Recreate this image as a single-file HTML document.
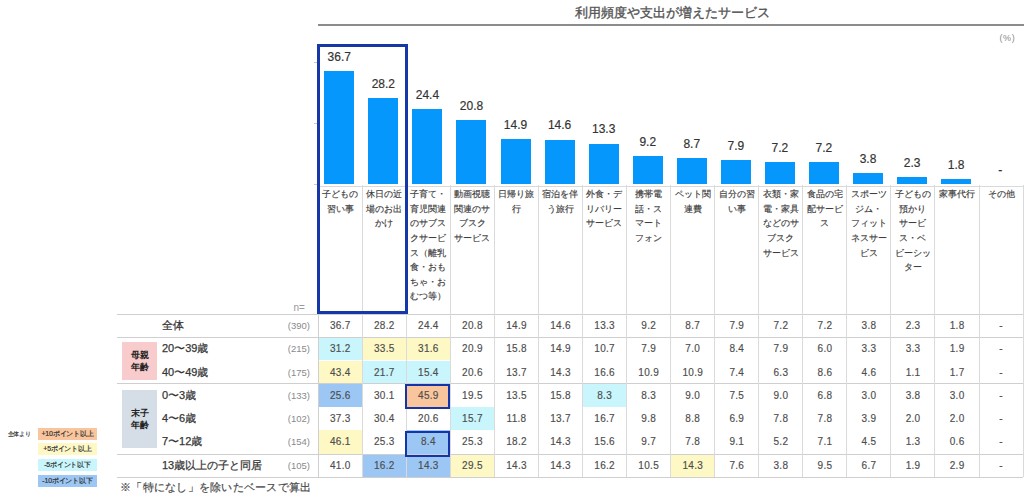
<!DOCTYPE html>
<html><head><meta charset="utf-8">
<style>
html,body{margin:0;padding:0;}
body{width:1024px;height:497px;position:relative;overflow:hidden;background:#fff;font-family:"Liberation Sans",sans-serif;color:#404040;}
.a{position:absolute;}
.t{position:absolute;white-space:nowrap;}
.bar{position:absolute;background:#0597fb;}
.bl{position:absolute;width:44px;text-align:center;font-size:12px;line-height:12px;color:#333;-webkit-text-stroke:0.18px #333;}
.cat{position:absolute;width:44px;text-align:center;font-size:9.3px;line-height:14.6px;color:#3a3a3a;-webkit-text-stroke:0.15px #3a3a3a;}
.vl{position:absolute;width:1px;background:#dadada;}
.hl{position:absolute;height:1px;background:#cfcfcf;}
.cell{position:absolute;text-align:center;font-size:10px;color:#4d4d4d;-webkit-text-stroke:0.15px #4d4d4d;letter-spacing:0.3px;text-indent:0.3px;}
.rl{position:absolute;font-size:11px;color:#363636;white-space:nowrap;-webkit-text-stroke:0.25px #363636;}
.rn{position:absolute;font-size:9.5px;color:#8a8a8a;text-align:right;width:60px;}
.lg{position:absolute;left:38px;width:59px;height:12px;font-size:7px;line-height:12px;text-align:center;color:#333;white-space:nowrap;letter-spacing:-0.2px;-webkit-text-stroke:0.2px #333;}
</style></head><body>

<div class="t" style="left:319px;width:706px;top:4.5px;text-align:center;font-size:12.7px;line-height:16px;color:#555;-webkit-text-stroke:0.35px #555;">利用頻度や支出が増えたサービス</div>
<div class="a" style="left:318px;top:24px;width:706px;height:2px;background:#8c8c8c;"></div>
<div class="t" style="left:999.5px;top:33px;font-size:9px;line-height:11px;color:#8a8a8a;letter-spacing:0.6px;">(%)</div>
<div class="a" style="left:314px;top:61.8px;width:4px;height:1px;background:#c8c8c8;"></div>
<div class="a" style="left:314px;top:122.9px;width:4px;height:1px;background:#c8c8c8;"></div>
<div class="a" style="left:314px;top:184px;width:4px;height:1px;background:#c8c8c8;"></div>
<div class="a" style="left:318px;top:186px;width:706px;height:1px;background:#d9d9d9;"></div>
<div class="bar" style="left:324.3px;top:71.46px;width:30px;height:113.04px;"></div>
<div class="bl" style="left:317.3px;top:51.36px;">36.7</div>
<div class="bar" style="left:368.36px;top:97.64px;width:30px;height:86.86px;"></div>
<div class="bl" style="left:361.36px;top:77.54px;">28.2</div>
<div class="bar" style="left:412.42px;top:109.35px;width:30px;height:75.15px;"></div>
<div class="bl" style="left:405.42px;top:89.25px;">24.4</div>
<div class="bar" style="left:456.48px;top:120.44px;width:30px;height:64.06px;"></div>
<div class="bl" style="left:449.48px;top:100.34px;">20.8</div>
<div class="bar" style="left:500.54px;top:138.61px;width:30px;height:45.89px;"></div>
<div class="bl" style="left:493.54px;top:118.51px;">14.9</div>
<div class="bar" style="left:544.6px;top:139.53px;width:30px;height:44.97px;"></div>
<div class="bl" style="left:537.6px;top:119.43px;">14.6</div>
<div class="bar" style="left:588.66px;top:143.54px;width:30px;height:40.96px;"></div>
<div class="bl" style="left:581.66px;top:123.44px;">13.3</div>
<div class="bar" style="left:632.72px;top:156.16px;width:30px;height:28.34px;"></div>
<div class="bl" style="left:625.72px;top:136.06px;">9.2</div>
<div class="bar" style="left:676.78px;top:157.7px;width:30px;height:26.8px;"></div>
<div class="bl" style="left:669.78px;top:137.6px;">8.7</div>
<div class="bar" style="left:720.84px;top:160.17px;width:30px;height:24.33px;"></div>
<div class="bl" style="left:713.84px;top:140.07px;">7.9</div>
<div class="bar" style="left:764.9px;top:162.32px;width:30px;height:22.18px;"></div>
<div class="bl" style="left:757.9px;top:142.22px;">7.2</div>
<div class="bar" style="left:808.96px;top:162.32px;width:30px;height:22.18px;"></div>
<div class="bl" style="left:801.96px;top:142.22px;">7.2</div>
<div class="bar" style="left:853.02px;top:172.8px;width:30px;height:11.7px;"></div>
<div class="bl" style="left:846.02px;top:152.7px;">3.8</div>
<div class="bar" style="left:897.08px;top:177.42px;width:30px;height:7.08px;"></div>
<div class="bl" style="left:890.08px;top:157.32px;">2.3</div>
<div class="bar" style="left:941.14px;top:178.96px;width:30px;height:5.54px;"></div>
<div class="bl" style="left:934.14px;top:158.86px;">1.8</div>
<div class="bl" style="left:978.2px;top:164.4px;">-</div>
<div class="vl" style="left:317.6px;top:314px;height:163px;background:#cfcfcf;"></div>
<div class="vl" style="left:361.66px;top:185px;height:292px;"></div>
<div class="vl" style="left:405.72px;top:185px;height:292px;"></div>
<div class="vl" style="left:449.78px;top:185px;height:292px;"></div>
<div class="vl" style="left:493.84px;top:185px;height:292px;"></div>
<div class="vl" style="left:537.9px;top:185px;height:292px;"></div>
<div class="vl" style="left:581.96px;top:185px;height:292px;"></div>
<div class="vl" style="left:626.02px;top:185px;height:292px;"></div>
<div class="vl" style="left:670.08px;top:185px;height:292px;"></div>
<div class="vl" style="left:714.14px;top:185px;height:292px;"></div>
<div class="vl" style="left:758.2px;top:185px;height:292px;"></div>
<div class="vl" style="left:802.26px;top:185px;height:292px;"></div>
<div class="vl" style="left:846.32px;top:185px;height:292px;"></div>
<div class="vl" style="left:890.38px;top:185px;height:292px;"></div>
<div class="vl" style="left:934.44px;top:185px;height:292px;"></div>
<div class="vl" style="left:978.5px;top:185px;height:292px;"></div>
<div class="vl" style="left:1022.56px;top:185px;height:292px;"></div>
<div class="cat" style="left:318.1px;top:187.2px;">子どもの<br>習い事</div>
<div class="cat" style="left:362.16px;top:187.2px;">休日の近<br>場のお出<br>かけ</div>
<div class="cat" style="left:406.22px;top:187.2px;">子育て・<br>育児関連<br>のサブス<br>クサービ<br>ス（離乳<br>食・おも<br>ちゃ・お<br>むつ等）</div>
<div class="cat" style="left:450.28px;top:187.2px;">動画視聴<br>関連のサ<br>ブスク<br>サービス</div>
<div class="cat" style="left:494.34px;top:187.2px;">日帰り旅<br>行</div>
<div class="cat" style="left:538.4px;top:187.2px;">宿泊を伴<br>う旅行</div>
<div class="cat" style="left:582.46px;top:187.2px;">外食・デ<br>リバリー<br>サービス</div>
<div class="cat" style="left:626.52px;top:187.2px;">携帯電<br>話・ス<br>マート<br>フォン</div>
<div class="cat" style="left:670.58px;top:187.2px;">ペット関<br>連費</div>
<div class="cat" style="left:714.64px;top:187.2px;">自分の習<br>い事</div>
<div class="cat" style="left:758.7px;top:187.2px;">衣類・家<br>電・家具<br>などのサ<br>ブスク<br>サービス</div>
<div class="cat" style="left:802.76px;top:187.2px;">食品の宅<br>配サービ<br>ス</div>
<div class="cat" style="left:846.82px;top:187.2px;">スポーツ<br>ジム・<br>フィット<br>ネスサー<br>ビス</div>
<div class="cat" style="left:890.88px;top:187.2px;">子どもの<br>預かり<br>サービ<br>ス・ベ<br>ビーシッ<br>ター</div>
<div class="cat" style="left:934.94px;top:187.2px;">家事代行</div>
<div class="cat" style="left:979px;top:187.2px;">その他</div>
<div class="t" style="left:293.5px;top:302.5px;font-size:10px;line-height:10px;color:#9a9a9a;">n=</div>
<div class="cell" style="left:318.6px;top:314px;width:43.06px;height:23.3px;line-height:23.3px;">36.7</div>
<div class="cell" style="left:362.66px;top:314px;width:43.06px;height:23.3px;line-height:23.3px;">28.2</div>
<div class="cell" style="left:406.72px;top:314px;width:43.06px;height:23.3px;line-height:23.3px;">24.4</div>
<div class="cell" style="left:450.78px;top:314px;width:43.06px;height:23.3px;line-height:23.3px;">20.8</div>
<div class="cell" style="left:494.84px;top:314px;width:43.06px;height:23.3px;line-height:23.3px;">14.9</div>
<div class="cell" style="left:538.9px;top:314px;width:43.06px;height:23.3px;line-height:23.3px;">14.6</div>
<div class="cell" style="left:582.96px;top:314px;width:43.06px;height:23.3px;line-height:23.3px;">13.3</div>
<div class="cell" style="left:627.02px;top:314px;width:43.06px;height:23.3px;line-height:23.3px;">9.2</div>
<div class="cell" style="left:671.08px;top:314px;width:43.06px;height:23.3px;line-height:23.3px;">8.7</div>
<div class="cell" style="left:715.14px;top:314px;width:43.06px;height:23.3px;line-height:23.3px;">7.9</div>
<div class="cell" style="left:759.2px;top:314px;width:43.06px;height:23.3px;line-height:23.3px;">7.2</div>
<div class="cell" style="left:803.26px;top:314px;width:43.06px;height:23.3px;line-height:23.3px;">7.2</div>
<div class="cell" style="left:847.32px;top:314px;width:43.06px;height:23.3px;line-height:23.3px;">3.8</div>
<div class="cell" style="left:891.38px;top:314px;width:43.06px;height:23.3px;line-height:23.3px;">2.3</div>
<div class="cell" style="left:935.44px;top:314px;width:43.06px;height:23.3px;line-height:23.3px;">1.8</div>
<div class="cell" style="left:979.5px;top:314px;width:43.06px;height:23.3px;line-height:23.3px;">-</div>
<div class="rl" style="left:162px;top:314px;line-height:23.3px;">全体</div>
<div class="rn" style="left:250px;top:314px;line-height:23.3px;">(390)</div>
<div class="cell" style="left:318.6px;top:337.3px;width:43.06px;height:23.2px;line-height:23.2px;background:#c8f6fc;">31.2</div>
<div class="cell" style="left:362.66px;top:337.3px;width:43.06px;height:23.2px;line-height:23.2px;background:#fdf8c4;">33.5</div>
<div class="cell" style="left:406.72px;top:337.3px;width:43.06px;height:23.2px;line-height:23.2px;background:#fdf8c4;">31.6</div>
<div class="cell" style="left:450.78px;top:337.3px;width:43.06px;height:23.2px;line-height:23.2px;">20.9</div>
<div class="cell" style="left:494.84px;top:337.3px;width:43.06px;height:23.2px;line-height:23.2px;">15.8</div>
<div class="cell" style="left:538.9px;top:337.3px;width:43.06px;height:23.2px;line-height:23.2px;">14.9</div>
<div class="cell" style="left:582.96px;top:337.3px;width:43.06px;height:23.2px;line-height:23.2px;">10.7</div>
<div class="cell" style="left:627.02px;top:337.3px;width:43.06px;height:23.2px;line-height:23.2px;">7.9</div>
<div class="cell" style="left:671.08px;top:337.3px;width:43.06px;height:23.2px;line-height:23.2px;">7.0</div>
<div class="cell" style="left:715.14px;top:337.3px;width:43.06px;height:23.2px;line-height:23.2px;">8.4</div>
<div class="cell" style="left:759.2px;top:337.3px;width:43.06px;height:23.2px;line-height:23.2px;">7.9</div>
<div class="cell" style="left:803.26px;top:337.3px;width:43.06px;height:23.2px;line-height:23.2px;">6.0</div>
<div class="cell" style="left:847.32px;top:337.3px;width:43.06px;height:23.2px;line-height:23.2px;">3.3</div>
<div class="cell" style="left:891.38px;top:337.3px;width:43.06px;height:23.2px;line-height:23.2px;">3.3</div>
<div class="cell" style="left:935.44px;top:337.3px;width:43.06px;height:23.2px;line-height:23.2px;">1.9</div>
<div class="cell" style="left:979.5px;top:337.3px;width:43.06px;height:23.2px;line-height:23.2px;">-</div>
<div class="rl" style="left:162px;top:337.3px;line-height:23.2px;">20〜39歳</div>
<div class="rn" style="left:250px;top:337.3px;line-height:23.2px;">(215)</div>
<div class="cell" style="left:318.6px;top:360.5px;width:43.06px;height:23.1px;line-height:23.1px;background:#fdf8c4;">43.4</div>
<div class="cell" style="left:362.66px;top:360.5px;width:43.06px;height:23.1px;line-height:23.1px;background:#c8f6fc;">21.7</div>
<div class="cell" style="left:406.72px;top:360.5px;width:43.06px;height:23.1px;line-height:23.1px;background:#c8f6fc;">15.4</div>
<div class="cell" style="left:450.78px;top:360.5px;width:43.06px;height:23.1px;line-height:23.1px;">20.6</div>
<div class="cell" style="left:494.84px;top:360.5px;width:43.06px;height:23.1px;line-height:23.1px;">13.7</div>
<div class="cell" style="left:538.9px;top:360.5px;width:43.06px;height:23.1px;line-height:23.1px;">14.3</div>
<div class="cell" style="left:582.96px;top:360.5px;width:43.06px;height:23.1px;line-height:23.1px;">16.6</div>
<div class="cell" style="left:627.02px;top:360.5px;width:43.06px;height:23.1px;line-height:23.1px;">10.9</div>
<div class="cell" style="left:671.08px;top:360.5px;width:43.06px;height:23.1px;line-height:23.1px;">10.9</div>
<div class="cell" style="left:715.14px;top:360.5px;width:43.06px;height:23.1px;line-height:23.1px;">7.4</div>
<div class="cell" style="left:759.2px;top:360.5px;width:43.06px;height:23.1px;line-height:23.1px;">6.3</div>
<div class="cell" style="left:803.26px;top:360.5px;width:43.06px;height:23.1px;line-height:23.1px;">8.6</div>
<div class="cell" style="left:847.32px;top:360.5px;width:43.06px;height:23.1px;line-height:23.1px;">4.6</div>
<div class="cell" style="left:891.38px;top:360.5px;width:43.06px;height:23.1px;line-height:23.1px;">1.1</div>
<div class="cell" style="left:935.44px;top:360.5px;width:43.06px;height:23.1px;line-height:23.1px;">1.7</div>
<div class="cell" style="left:979.5px;top:360.5px;width:43.06px;height:23.1px;line-height:23.1px;">-</div>
<div class="rl" style="left:162px;top:360.5px;line-height:23.1px;">40〜49歳</div>
<div class="rn" style="left:250px;top:360.5px;line-height:23.1px;">(175)</div>
<div class="cell" style="left:318.6px;top:383.6px;width:43.06px;height:23.3px;line-height:23.3px;background:#9cc7f4;">25.6</div>
<div class="cell" style="left:362.66px;top:383.6px;width:43.06px;height:23.3px;line-height:23.3px;">30.1</div>
<div class="cell" style="left:406.72px;top:383.6px;width:43.06px;height:23.3px;line-height:23.3px;background:#f9c59d;">45.9</div>
<div class="cell" style="left:450.78px;top:383.6px;width:43.06px;height:23.3px;line-height:23.3px;">19.5</div>
<div class="cell" style="left:494.84px;top:383.6px;width:43.06px;height:23.3px;line-height:23.3px;">13.5</div>
<div class="cell" style="left:538.9px;top:383.6px;width:43.06px;height:23.3px;line-height:23.3px;">15.8</div>
<div class="cell" style="left:582.96px;top:383.6px;width:43.06px;height:23.3px;line-height:23.3px;background:#c8f6fc;">8.3</div>
<div class="cell" style="left:627.02px;top:383.6px;width:43.06px;height:23.3px;line-height:23.3px;">8.3</div>
<div class="cell" style="left:671.08px;top:383.6px;width:43.06px;height:23.3px;line-height:23.3px;">9.0</div>
<div class="cell" style="left:715.14px;top:383.6px;width:43.06px;height:23.3px;line-height:23.3px;">7.5</div>
<div class="cell" style="left:759.2px;top:383.6px;width:43.06px;height:23.3px;line-height:23.3px;">9.0</div>
<div class="cell" style="left:803.26px;top:383.6px;width:43.06px;height:23.3px;line-height:23.3px;">6.8</div>
<div class="cell" style="left:847.32px;top:383.6px;width:43.06px;height:23.3px;line-height:23.3px;">3.0</div>
<div class="cell" style="left:891.38px;top:383.6px;width:43.06px;height:23.3px;line-height:23.3px;">3.8</div>
<div class="cell" style="left:935.44px;top:383.6px;width:43.06px;height:23.3px;line-height:23.3px;">3.0</div>
<div class="cell" style="left:979.5px;top:383.6px;width:43.06px;height:23.3px;line-height:23.3px;">-</div>
<div class="rl" style="left:162px;top:383.6px;line-height:23.3px;">0〜3歳</div>
<div class="rn" style="left:250px;top:383.6px;line-height:23.3px;">(133)</div>
<div class="cell" style="left:318.6px;top:406.9px;width:43.06px;height:23.3px;line-height:23.3px;">37.3</div>
<div class="cell" style="left:362.66px;top:406.9px;width:43.06px;height:23.3px;line-height:23.3px;">30.4</div>
<div class="cell" style="left:406.72px;top:406.9px;width:43.06px;height:23.3px;line-height:23.3px;">20.6</div>
<div class="cell" style="left:450.78px;top:406.9px;width:43.06px;height:23.3px;line-height:23.3px;background:#c8f6fc;">15.7</div>
<div class="cell" style="left:494.84px;top:406.9px;width:43.06px;height:23.3px;line-height:23.3px;">11.8</div>
<div class="cell" style="left:538.9px;top:406.9px;width:43.06px;height:23.3px;line-height:23.3px;">13.7</div>
<div class="cell" style="left:582.96px;top:406.9px;width:43.06px;height:23.3px;line-height:23.3px;">16.7</div>
<div class="cell" style="left:627.02px;top:406.9px;width:43.06px;height:23.3px;line-height:23.3px;">9.8</div>
<div class="cell" style="left:671.08px;top:406.9px;width:43.06px;height:23.3px;line-height:23.3px;">8.8</div>
<div class="cell" style="left:715.14px;top:406.9px;width:43.06px;height:23.3px;line-height:23.3px;">6.9</div>
<div class="cell" style="left:759.2px;top:406.9px;width:43.06px;height:23.3px;line-height:23.3px;">7.8</div>
<div class="cell" style="left:803.26px;top:406.9px;width:43.06px;height:23.3px;line-height:23.3px;">7.8</div>
<div class="cell" style="left:847.32px;top:406.9px;width:43.06px;height:23.3px;line-height:23.3px;">3.9</div>
<div class="cell" style="left:891.38px;top:406.9px;width:43.06px;height:23.3px;line-height:23.3px;">2.0</div>
<div class="cell" style="left:935.44px;top:406.9px;width:43.06px;height:23.3px;line-height:23.3px;">2.0</div>
<div class="cell" style="left:979.5px;top:406.9px;width:43.06px;height:23.3px;line-height:23.3px;">-</div>
<div class="rl" style="left:162px;top:406.9px;line-height:23.3px;">4〜6歳</div>
<div class="rn" style="left:250px;top:406.9px;line-height:23.3px;">(102)</div>
<div class="cell" style="left:318.6px;top:430.2px;width:43.06px;height:23.8px;line-height:23.8px;background:#fdf8c4;">46.1</div>
<div class="cell" style="left:362.66px;top:430.2px;width:43.06px;height:23.8px;line-height:23.8px;">25.3</div>
<div class="cell" style="left:406.72px;top:430.2px;width:43.06px;height:23.8px;line-height:23.8px;background:#9cc7f4;">8.4</div>
<div class="cell" style="left:450.78px;top:430.2px;width:43.06px;height:23.8px;line-height:23.8px;">25.3</div>
<div class="cell" style="left:494.84px;top:430.2px;width:43.06px;height:23.8px;line-height:23.8px;">18.2</div>
<div class="cell" style="left:538.9px;top:430.2px;width:43.06px;height:23.8px;line-height:23.8px;">14.3</div>
<div class="cell" style="left:582.96px;top:430.2px;width:43.06px;height:23.8px;line-height:23.8px;">15.6</div>
<div class="cell" style="left:627.02px;top:430.2px;width:43.06px;height:23.8px;line-height:23.8px;">9.7</div>
<div class="cell" style="left:671.08px;top:430.2px;width:43.06px;height:23.8px;line-height:23.8px;">7.8</div>
<div class="cell" style="left:715.14px;top:430.2px;width:43.06px;height:23.8px;line-height:23.8px;">9.1</div>
<div class="cell" style="left:759.2px;top:430.2px;width:43.06px;height:23.8px;line-height:23.8px;">5.2</div>
<div class="cell" style="left:803.26px;top:430.2px;width:43.06px;height:23.8px;line-height:23.8px;">7.1</div>
<div class="cell" style="left:847.32px;top:430.2px;width:43.06px;height:23.8px;line-height:23.8px;">4.5</div>
<div class="cell" style="left:891.38px;top:430.2px;width:43.06px;height:23.8px;line-height:23.8px;">1.3</div>
<div class="cell" style="left:935.44px;top:430.2px;width:43.06px;height:23.8px;line-height:23.8px;">0.6</div>
<div class="cell" style="left:979.5px;top:430.2px;width:43.06px;height:23.8px;line-height:23.8px;">-</div>
<div class="rl" style="left:162px;top:430.2px;line-height:23.8px;">7〜12歳</div>
<div class="rn" style="left:250px;top:430.2px;line-height:23.8px;">(154)</div>
<div class="cell" style="left:318.6px;top:454px;width:43.06px;height:23px;line-height:23px;">41.0</div>
<div class="cell" style="left:362.66px;top:454px;width:43.06px;height:23px;line-height:23px;background:#9cc7f4;">16.2</div>
<div class="cell" style="left:406.72px;top:454px;width:43.06px;height:23px;line-height:23px;background:#9cc7f4;">14.3</div>
<div class="cell" style="left:450.78px;top:454px;width:43.06px;height:23px;line-height:23px;background:#fdf8c4;">29.5</div>
<div class="cell" style="left:494.84px;top:454px;width:43.06px;height:23px;line-height:23px;">14.3</div>
<div class="cell" style="left:538.9px;top:454px;width:43.06px;height:23px;line-height:23px;">14.3</div>
<div class="cell" style="left:582.96px;top:454px;width:43.06px;height:23px;line-height:23px;">16.2</div>
<div class="cell" style="left:627.02px;top:454px;width:43.06px;height:23px;line-height:23px;">10.5</div>
<div class="cell" style="left:671.08px;top:454px;width:43.06px;height:23px;line-height:23px;background:#fdf8c4;">14.3</div>
<div class="cell" style="left:715.14px;top:454px;width:43.06px;height:23px;line-height:23px;">7.6</div>
<div class="cell" style="left:759.2px;top:454px;width:43.06px;height:23px;line-height:23px;">3.8</div>
<div class="cell" style="left:803.26px;top:454px;width:43.06px;height:23px;line-height:23px;">9.5</div>
<div class="cell" style="left:847.32px;top:454px;width:43.06px;height:23px;line-height:23px;">6.7</div>
<div class="cell" style="left:891.38px;top:454px;width:43.06px;height:23px;line-height:23px;">1.9</div>
<div class="cell" style="left:935.44px;top:454px;width:43.06px;height:23px;line-height:23px;">2.9</div>
<div class="cell" style="left:979.5px;top:454px;width:43.06px;height:23px;line-height:23px;">-</div>
<div class="rl" style="left:162px;top:454px;line-height:23px;">13歳以上の子と同居</div>
<div class="rn" style="left:250px;top:454px;line-height:23px;">(105)</div>
<div class="hl" style="left:117px;top:314px;width:906px;"></div>
<div class="hl" style="left:117px;top:337px;width:906px;"></div>
<div class="hl" style="left:117px;top:383px;width:906px;"></div>
<div class="hl" style="left:117px;top:454px;width:906px;"></div>
<div class="hl" style="left:117px;top:477px;width:906px;"></div>
<div class="vl" style="left:361.66px;top:314px;height:163px;"></div>
<div class="vl" style="left:405.72px;top:314px;height:163px;"></div>
<div class="vl" style="left:449.78px;top:314px;height:163px;"></div>
<div class="vl" style="left:493.84px;top:314px;height:163px;"></div>
<div class="vl" style="left:537.9px;top:314px;height:163px;"></div>
<div class="vl" style="left:581.96px;top:314px;height:163px;"></div>
<div class="vl" style="left:626.02px;top:314px;height:163px;"></div>
<div class="vl" style="left:670.08px;top:314px;height:163px;"></div>
<div class="vl" style="left:714.14px;top:314px;height:163px;"></div>
<div class="vl" style="left:758.2px;top:314px;height:163px;"></div>
<div class="vl" style="left:802.26px;top:314px;height:163px;"></div>
<div class="vl" style="left:846.32px;top:314px;height:163px;"></div>
<div class="vl" style="left:890.38px;top:314px;height:163px;"></div>
<div class="vl" style="left:934.44px;top:314px;height:163px;"></div>
<div class="vl" style="left:978.5px;top:314px;height:163px;"></div>
<div class="vl" style="left:1022.56px;top:314px;height:163px;"></div>
<div class="a" style="left:122px;top:342px;width:35px;height:38px;background:#f8cccc;font-size:9px;line-height:12.5px;text-align:center;font-weight:bold;color:#222;display:flex;align-items:center;justify-content:center;">母親<br>年齢</div>
<div class="a" style="left:122px;top:390px;width:35px;height:58px;background:#d5dde6;font-size:9px;line-height:12.5px;text-align:center;font-weight:bold;color:#222;display:flex;align-items:center;justify-content:center;">末子<br>年齢</div>
<div class="a" style="left:405.22px;top:383.6px;width:44.86px;height:25.5px;box-sizing:border-box;border:2px solid #1434a8;"></div>
<div class="a" style="left:405.22px;top:431.2px;width:44.86px;height:25.5px;box-sizing:border-box;border:2px solid #1434a8;"></div>
<div class="a" style="left:317px;top:43.6px;width:90.5px;height:270.6px;box-sizing:border-box;border:3px solid #1637a8;"></div>
<div class="t" style="left:7.5px;top:428px;font-size:6px;line-height:12px;color:#333;letter-spacing:-0.1px;-webkit-text-stroke:0.15px #333;">全体より</div>
<div class="lg" style="top:427.7px;background:#f9c59d;">+10ポイント以上</div>
<div class="lg" style="top:443.4px;background:#fdf8c4;">+5ポイント以上</div>
<div class="lg" style="top:459.1px;background:#c8f6fc;">-5ポイント以下</div>
<div class="lg" style="top:474.8px;background:#9cc7f4;">-10ポイント以下</div>
<div class="t" style="left:120px;top:479.5px;font-size:11.4px;line-height:15px;color:#4a4a4a;letter-spacing:0.25px;-webkit-text-stroke:0.2px #4a4a4a;">※「特になし」を除いたベースで算出</div>
</body></html>
